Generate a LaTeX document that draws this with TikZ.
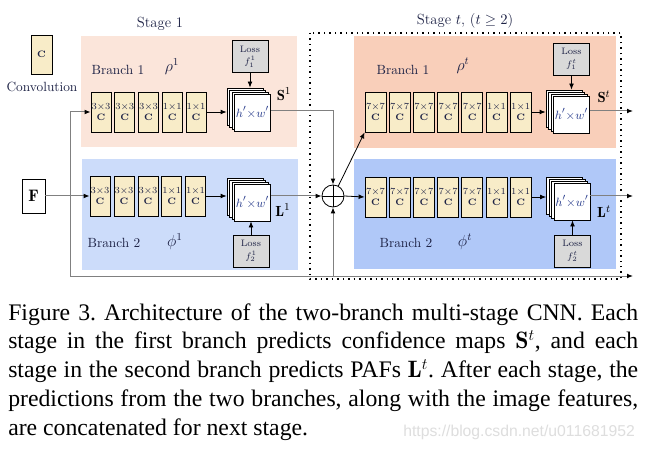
\documentclass[tikz,border=0pt]{standalone}
\usepackage{fontspec}
\newfontfamily\capfont{Liberation Serif}
\newfontfamily\wmfont{Liberation Sans}
\usetikzlibrary{arrows.meta}
\definecolor{convfill}{RGB}{248,236,200}
\definecolor{lossfill}{RGB}{217,217,217}
\definecolor{pinkA}{RGB}{251,229,218}
\definecolor{blueA}{RGB}{204,220,250}
\definecolor{pinkB}{RGB}{249,207,186}
\definecolor{blueB}{RGB}{176,200,248}
\definecolor{txt}{RGB}{30,35,70}
\definecolor{hw}{RGB}{40,60,140}
\definecolor{conn}{RGB}{128,128,128}
\definecolor{wm}{RGB}{222,222,222}
\begin{document}
\begin{tikzpicture}[x=0.75pt,y=-0.75pt,
  convbox/.style={draw=black,line width=0.6pt,fill=convfill,minimum width=15pt,minimum height=30pt,inner sep=0pt,align=center,font=\fontsize{7}{8}\selectfont,text=txt},
  convboxt/.style={convbox,minimum width=15.75pt},
  layer/.style={draw=black,line width=0.6pt,fill=white,minimum width=27pt,minimum height=27.75pt,inner sep=0pt,font=\fontsize{9.5}{11}\selectfont,text=hw},
  lossbox/.style={draw=black,line width=0.6pt,fill=lossfill,minimum width=27pt,minimum height=24pt,inner sep=0pt,align=center,font=\fontsize{7}{8.5}\selectfont,text=txt},
  bglabel/.style={font=\fontsize{10}{12}\selectfont,text=txt,inner sep=0pt},
  greek/.style={font=\fontsize{12}{14}\selectfont,text=txt,inner sep=0pt},
  outlabel/.style={font=\fontsize{11}{13}\selectfont,inner sep=0pt},
  stagelabel/.style={font=\fontsize{11}{13}\selectfont,text=txt,inner sep=0pt},
  arr/.style={-{Latex[length=4.5pt,width=3.6pt,color=black]}},
  gline/.style={draw=conn,line width=0.75pt},
  bline/.style={draw=black,line width=0.6pt},
]
\useasboundingbox (0,0) rectangle (646,449);
\fill[white] (0,0) rectangle (646,449);
% backgrounds
\fill[pinkA] (81,36) rectangle (297,147);
\fill[blueA] (82,159) rectangle (298,270);
\fill[pinkB] (354,36) rectangle (616,148);
\fill[blueB] (354,159) rectangle (616,269);
\draw[black,line width=1.1pt,dash pattern=on 1.1pt off 3pt] (310,33) rectangle (621,279);

% labels
\node[stagelabel] (lblS1) at (160,24) {Stage 1};
\node[stagelabel] (lblSt) at (465,21) {Stage $t$, ($t\geq 2$)};
\node[convbox,minimum width=15.75pt,minimum height=29.25pt] (legend) at (41.5,54.5) {\textbf{C}};
\node[bglabel] (lblconv) at (42,87) {Convolution};
\node[bglabel] (b11) at (118,70) {Branch 1};
\node[greek] (rho1) at (172,67) {$\rho^1$};
\node[bglabel] (b12) at (114,243) {Branch 2};
\node[greek] (phi1) at (175,242) {$\phi^1$};
\node[bglabel] (bt1) at (403,70) {Branch 1};
\node[greek] (rhot) at (463,66) {$\rho^t$};
\node[bglabel] (bt2) at (406,243) {Branch 2};
\node[greek] (phit) at (465,242) {$\phi^t$};

% F
\node[draw=black,line width=0.6pt,fill=white,minimum width=17.25pt,minimum height=25.5pt,inner sep=0pt,font=\fontsize{12.5}{14}\selectfont] (F) at (33.5,196) {$\mathbf{F}$};

% stage 1 conv boxes
\node[convbox] (c11) at (101,112) {3$\times$3\\\textbf{C}};
\node[convbox] (c12) at (124.75,112) {3$\times$3\\\textbf{C}};
\node[convbox] (c13) at (148.5,112) {3$\times$3\\\textbf{C}};
\node[convbox] (c14) at (172.25,112) {1$\times$1\\\textbf{C}};
\node[convbox] (c15) at (196,112) {1$\times$1\\\textbf{C}};
\node[convbox] (c21) at (100,196) {3$\times$3\\\textbf{C}};
\node[convbox] (c22) at (124,196) {3$\times$3\\\textbf{C}};
\node[convbox] (c23) at (148,196) {3$\times$3\\\textbf{C}};
\node[convbox] (c24) at (171.75,196) {1$\times$1\\\textbf{C}};
\node[convbox] (c25) at (195.5,196) {1$\times$1\\\textbf{C}};

% stage t conv boxes
\node[convboxt] (t11) at (375.5,112) {7$\times$7\\\textbf{C}};
\node[convboxt] (t12) at (399.7,112) {7$\times$7\\\textbf{C}};
\node[convboxt] (t13) at (423.9,112) {7$\times$7\\\textbf{C}};
\node[convboxt] (t14) at (448.1,112) {7$\times$7\\\textbf{C}};
\node[convboxt] (t15) at (472.3,112) {7$\times$7\\\textbf{C}};
\node[convboxt] (t16) at (496.5,112) {1$\times$1\\\textbf{C}};
\node[convboxt] (t17) at (520.7,112) {1$\times$1\\\textbf{C}};
\node[convboxt] (t21) at (375.5,197) {7$\times$7\\\textbf{C}};
\node[convboxt] (t22) at (399.7,197) {7$\times$7\\\textbf{C}};
\node[convboxt] (t23) at (423.9,197) {7$\times$7\\\textbf{C}};
\node[convboxt] (t24) at (448.1,197) {7$\times$7\\\textbf{C}};
\node[convboxt] (t25) at (472.3,197) {7$\times$7\\\textbf{C}};
\node[convboxt] (t26) at (496.5,197) {1$\times$1\\\textbf{C}};
\node[convboxt] (t27) at (520.7,197) {1$\times$1\\\textbf{C}};

% stacks
\node[layer] (s1a3) at (245,106.5) {};
\node[layer] (s1a2) at (247.5,108.5) {};
\node[layer] (s1a1) at (250,110.5) {};
\node[layer] (s1a0) at (252.5,112.5) {$h'{\times}w'$};
\node[layer] (s2a3) at (245,196.5) {};
\node[layer] (s2a2) at (247.5,198.5) {};
\node[layer] (s2a1) at (250,200.5) {};
\node[layer] (s2a0) at (252.5,202.5) {$h'{\times}w'$};
\node[layer] (t1a3) at (564,108.5) {};
\node[layer] (t1a2) at (566.5,110.5) {};
\node[layer] (t1a1) at (569,112.5) {};
\node[layer] (t1a0) at (571.5,114.5) {$h'{\times}w'$};
\node[layer] (t2a3) at (564.5,195.5) {};
\node[layer] (t2a2) at (567,197.5) {};
\node[layer] (t2a1) at (569.5,199.5) {};
\node[layer] (t2a0) at (572,201.5) {$h'{\times}w'$};

% losses
\node[lossbox] (l11) at (250,56.5) {Loss\\[1pt]$f_1^1$};
\node[lossbox] (l21) at (251,251) {Loss\\[1pt]$f_2^1$};
\node[lossbox] (lt1) at (571.5,59) {Loss\\[1pt]$f_1^t$};
\node[lossbox] (lt2) at (572.5,251) {Loss\\[1pt]$f_2^t$};

% output labels
\node[outlabel] (S1) at (284,94) {$\mathbf{S}^1$};
\node[outlabel] (L1) at (283,210) {$\mathbf{L}^1$};
\node[outlabel] (St) at (604,97) {$\mathbf{S}^t$};
\node[outlabel] (Lt) at (604,212) {$\mathbf{L}^t$};

% plus
\node[circle,draw=black,line width=0.6pt,fill=white,minimum size=16.5pt,inner sep=0pt,
  path picture={\draw[black,line width=0.6pt] (path picture bounding box.north) -- (path picture bounding box.south)
  (path picture bounding box.west) -- (path picture bounding box.east);}] (plus) at (333,196) {};

% coordinates
\coordinate (jt) at (70,112);
\coordinate (jb) at (70,276);
\coordinate (oS) at (633,111);
\coordinate (oL) at (633,196);
\coordinate (oB) at (633,276);

% connectors stage 1
\draw[gline,arr] (F.east) -- (c21.west);
\draw[gline] (jt) -- (jb);
\draw[gline,arr] (jt) -- (c11.west);
\draw[gline,arr] (jb) -- (oB);
\draw[gline,arr] (plus.south |- jb) -- (plus.south);
\draw[bline,arr] (c15.east) -- (s1a3.west |- c15.east);
\draw[bline,arr] (c25.east) -- (s2a3.west |- c25.east);
\draw[bline,arr] (l11.south) -- (l11.south |- s1a3.north);
\draw[bline,arr] (l21.north) -- (l21.north |- s2a0.south);
\draw[gline,arr] (s1a0.east |- oS) -| (plus.north);
\draw[gline,arr] (s2a0.east |- plus.west) -- (plus.west);

% connectors stage t
\draw[bline,arr] (plus.62) -- (t11.south west);
\draw[bline,arr] (plus.east) -- (t21.west);
\draw[bline,arr] (t17.east) -- (t1a3.west |- t17.east);
\draw[bline,arr] (t27.east) -- (t2a3.west |- t27.east);
\draw[bline,arr] (lt1.south) -- (lt1.south |- t1a3.north);
\draw[bline,arr] (lt2.north) -- (lt2.north |- t2a0.south);
\draw[gline,arr] (t1a0.east |- oS) -- (oS);
\draw[gline,arr] (t2a0.east |- oL) -- (oL);

% caption
\node[anchor=base west,text width=472.5pt,align=justify,inner sep=0pt,
  font=\capfont\fontsize{17.8}{21.6}\selectfont\frenchspacing] (cap) at (8,320)
  {Figure 3. Architecture of the two-branch multi-stage CNN. Each\linebreak
   stage in the first branch predicts confidence maps $\mathbf{S}^t$, and each\linebreak
   stage in the second branch predicts PAFs $\mathbf{L}^t$. After each stage, the\linebreak
   predictions from the two branches, along with the image features,\linebreak
   are concatenated for next stage.};
\node[anchor=base west,inner sep=0pt,text=wm,font=\wmfont\fontsize{11.8}{13}\selectfont] (wmark) at (403,436) {https://blog.csdn.net/u011681952};
\end{tikzpicture}
\end{document}
